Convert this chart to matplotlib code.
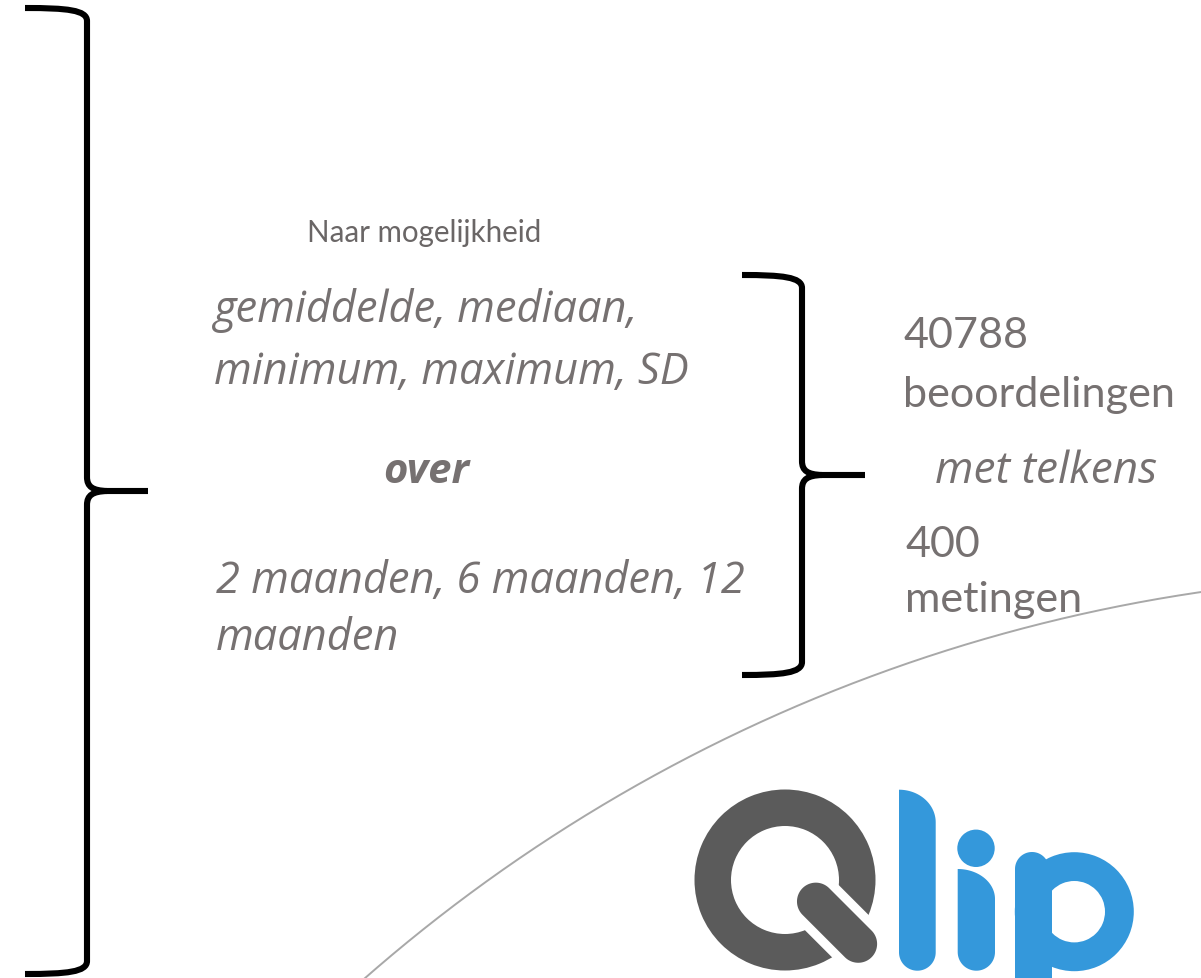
import numpy as np
import matplotlib
matplotlib.use("Agg")
import matplotlib.pyplot as plt
from matplotlib.path import Path
from matplotlib.patches import PathPatch, Polygon, Wedge, Circle

# ---------------- content ----------------
naar_text = "Naar mogelijkheid"
stat_lines = ["gemiddelde, mediaan,", "minimum, maximum, SD"]
over_text = "over"
period_lines = ["2 maanden, 6 maanden, 12", "maanden"]
count_lines = ["40788", "beoordelingen"]
met_text = "met telkens"
measure_lines = ["400", "metingen"]

# ---------------- style ----------------
W, H = 1201, 979
TEXT = "#767171"
TEXT_DARK = "#6a6666"
BLUE = "#3498db"
QGRAY = "#5b5b5b"
FAM = ["Lato", "Open Sans", "DejaVu Sans"]
FAM_IT = ["Open Sans", "Lato", "DejaVu Sans"]

fig = plt.figure(figsize=(W / 100, H / 100), dpi=100)
ax = fig.add_axes([0, 0, 1, 1])
ax.set_xlim(0, W)
ax.set_ylim(H, 0)
ax.axis("off")
fig.patch.set_facecolor("white")

renderer = fig.canvas.get_renderer()


def fit_size(strings, targets, family, **kw):
    tmp = [ax.text(0, 0, s, fontsize=20, family=family, **kw) for s in strings]
    w = sum(t.get_window_extent(renderer).width for t in tmp)
    for t in tmp:
        t.remove()
    return 20 * sum(targets) / w


# ---------------- gray arc ----------------
cx, cy, r = 1436.4, 2201.0, 1625.1
th = np.linspace(np.deg2rad(200), np.deg2rad(300), 1000)
ax.plot(cx + r * np.cos(th), cy + r * np.sin(th), color="#a8a8a8", lw=1.4,
        solid_capstyle="butt", zorder=1)


# ---------------- braces ----------------
def brace(x_end, x_spine, x_tip, y_top, y_mid, y_bot, k):
    C, L, M = Path.CURVE4, Path.LINETO, Path.MOVETO
    v1 = [(x_end, y_top), (x_spine - 20, y_top), (x_spine, y_top + 2), (x_spine, y_top + k),
          (x_spine, y_mid - 14),
          (x_spine, y_mid - 4), (x_spine + 6, y_mid - 0.5), (x_spine + 20, y_mid),
          (x_tip, y_mid)]
    c1 = [M, C, C, C, L, C, C, C, L]
    v2 = [(x_spine + 20, y_mid), (x_spine + 6, y_mid + 0.5), (x_spine, y_mid + 4), (x_spine, y_mid + 14),
          (x_spine, y_bot - k),
          (x_spine, y_bot - 2), (x_spine - 20, y_bot), (x_end, y_bot)]
    c2 = [M, C, C, C, L, C, C, C]
    for v, c in ((v1, c1), (v2, c2)):
        ax.add_patch(PathPatch(Path(v, c), fill=False, lw=4.4, edgecolor="black",
                               capstyle="butt", joinstyle="round", zorder=3))


brace(25, 87, 148, 9, 492, 975, 13)
brace(742, 802, 865, 276, 476, 676, 13)

# ---------------- texts ----------------
s_naar = fit_size([naar_text], [235], FAM)
ax.text(307, 242, naar_text, fontsize=s_naar, family=FAM, color=TEXT_DARK,
        ha="left", va="baseline")

s_it = fit_size(stat_lines + period_lines, [428, 473, 530, 181], FAM_IT, style="italic")
for s, y in zip(stat_lines, [322, 384]):
    ax.text(214, y, s, fontsize=s_it, family=FAM_IT, style="italic", color=TEXT,
            ha="left", va="baseline")
for s, y in zip(period_lines, [593, 650]):
    ax.text(216, y, s, fontsize=s_it, family=FAM_IT, style="italic", color=TEXT,
            ha="left", va="baseline")

s_over = fit_size([over_text], [86], FAM_IT, style="italic", weight="bold")
ax.text(383, 483, over_text, fontsize=s_over, family=FAM_IT, style="italic",
        weight="bold", color=TEXT, ha="left", va="baseline")

s_rt = fit_size(count_lines + measure_lines, [119, 278, 72, 183], FAM)
for s, y in zip(count_lines, [348, 407]):
    ax.text(903, y, s, fontsize=s_rt, family=FAM, color=TEXT, ha="left", va="baseline")
for s, y in zip(measure_lines, [557, 612]):
    ax.text(905, y, s, fontsize=s_rt, family=FAM, color=TEXT, ha="left", va="baseline")

s_met = fit_size([met_text], [222], FAM_IT, style="italic")
ax.text(935, 483, met_text, fontsize=s_met, family=FAM_IT, style="italic", color=TEXT,
        ha="left", va="baseline")


# ---------------- logo ----------------
def arc(cx_, cy_, rx, ry, a0, a1, n=40):
    a = np.deg2rad(np.linspace(a0, a1, n))
    return np.column_stack([cx_ + rx * np.cos(a), cy_ + ry * np.sin(a)])


# Q ring
qc = np.array([785.0, 881.0])
ax.add_patch(Wedge(tuple(qc), 90.5, 0, 360, width=36.5, facecolor=QGRAY,
                   edgecolor="none", zorder=4))
d = np.array([1, 1]) / np.sqrt(2)
nrm = np.array([1, -1]) / np.sqrt(2)
band = [qc + u * d + v * nrm for u, v in ((20, -21.4), (105, -21.4), (105, 34.4), (20, 34.4))]
ax.add_patch(Polygon(band, closed=True, facecolor="white", edgecolor="none", zorder=5))
# Q tail (stadium)
rt = 18.85
p0 = qc + 37 * d + 6.6 * nrm
p1 = qc + 97 * d + 6.6 * nrm
ang = np.degrees(np.arctan2(d[1], d[0]))
tail = np.vstack([arc(p1[0], p1[1], rt, rt, ang - 90, ang + 90),
                  arc(p0[0], p0[1], rt, rt, ang + 90, ang + 270)])
ax.add_patch(Polygon(tail, closed=True, facecolor=QGRAY, edgecolor="none", zorder=6))


def stem(x0, x1, top, curve_end, bottom):
    w = x1 - x0
    rb = w / 2
    pts = [(x0, top)]
    pts += list(arc(x0, curve_end, w, curve_end - top, -90, 0))
    pts += [(x1, bottom - rb)]
    pts += list(arc(x0 + rb, bottom - rb, rb, rb, 0, 180))
    ax.add_patch(Polygon(pts, closed=True, facecolor=BLUE, edgecolor="none", zorder=4))


# l
stem(899, 935.7, 790.7, 823.3, 971.7)
# i
stem(957.7, 995, 870, 900, 971.7)
ax.add_patch(Circle((976, 849.3), 18.7, facecolor=BLUE, edgecolor="none", zorder=4))
# p
pstem = [(1015, 990), (1015, 870)]
pstem += list(arc(1032, 870, 17, 17, 180, 330))
pstem += [(1052, 870), (1052, 990)]
ax.add_patch(Polygon(pstem, closed=True, facecolor=BLUE, edgecolor="none", zorder=4))
ax.add_patch(Wedge((1074.3, 912.7), 59.5, 0, 360, width=28.8, facecolor=BLUE,
                   edgecolor="none", zorder=4))

fig.savefig("out.png", dpi=100, facecolor="white")
